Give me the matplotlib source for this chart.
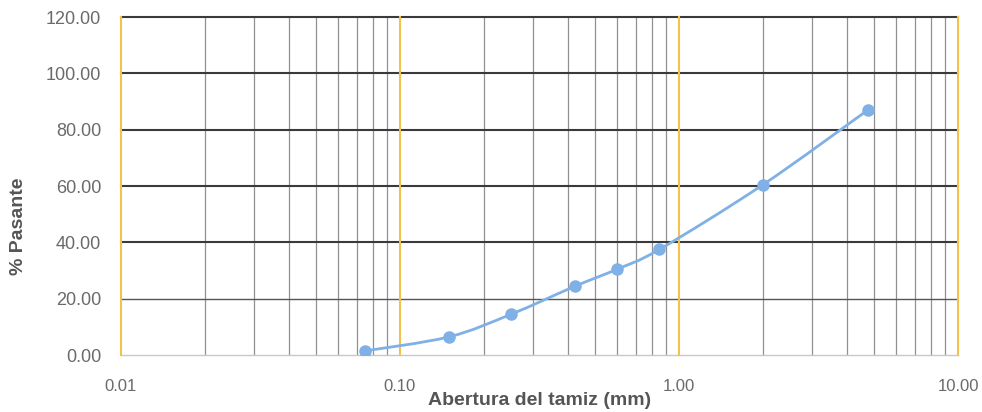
import numpy as np
import matplotlib
matplotlib.use("Agg")
import matplotlib.pyplot as plt
from matplotlib.path import Path
from matplotlib.patches import PathPatch
from matplotlib.ticker import FixedLocator, LogLocator, NullFormatter

plt.rcParams["font.family"] = ["Liberation Sans", "DejaVu Sans"]

# sieve openings (mm) and percent passing
abertura = [0.075, 0.15, 0.25, 0.425, 0.6, 0.85, 2.0, 4.75]
pasante = [1.5, 6.5, 14.5, 24.5, 30.5, 37.5, 60.5, 87.0]

x_ticks = [0.01, 0.1, 1.0, 10.0]
x_labels = ["0.01", "0.10", "1.00", "10.00"]
y_ticks = [0, 20, 40, 60, 80, 100, 120]

line_col = "#7fb0e6"
grid_dark = "#3a3a3a"
grid_minor = "#909090"
decade_col = "#f2c14e"
text_col = "#6a6a6a"


def smooth_path(xs, ys):
    # catmull-rom through the points in log-x space, turned into bezier segments
    lx = np.log10(xs)
    ly = np.asarray(ys, float)
    pts = np.column_stack([lx, ly])
    verts = [pts[0]]
    codes = [Path.MOVETO]
    n = len(pts)
    for i in range(n - 1):
        p0 = pts[i - 1] if i > 0 else pts[i]
        p1 = pts[i]
        p2 = pts[i + 1]
        p3 = pts[i + 2] if i + 2 < n else pts[i + 1]
        c1 = p1 + (p2 - p0) / 6.0
        c2 = p2 - (p3 - p1) / 6.0
        verts += [c1, c2, p2]
        codes += [Path.CURVE4] * 3
    verts = np.array(verts)
    verts[:, 0] = 10 ** verts[:, 0]
    return Path(verts, codes)


fig = plt.figure(figsize=(9.82, 4.12), dpi=100)
ax = fig.add_axes([0.123, 0.138, 0.8526, 0.8206])
ax.set_xscale("log")
ax.set_xlim(0.01, 10)
ax.set_ylim(0, 120)

ax.xaxis.set_major_locator(FixedLocator(x_ticks))
ax.set_xticklabels(x_labels)
ax.xaxis.set_minor_locator(LogLocator(base=10, subs=np.arange(2, 10)))
ax.xaxis.set_minor_formatter(NullFormatter())
ax.set_yticks(y_ticks)
ax.set_yticklabels(["%.2f" % v for v in y_ticks])

ax.grid(which="minor", axis="x", color=grid_minor, lw=0.9)
for v in x_ticks:
    ax.axvline(v, color=decade_col, lw=1.5, zorder=1.5, clip_on=False)
for v in y_ticks:
    if v == 0:
        ax.axhline(v, color="#c8c8c8", lw=1.0, zorder=1, clip_on=False)
    elif v == 20:
        ax.axhline(v, color="#555555", lw=1.0, zorder=1)
    else:
        ax.axhline(v, color=grid_dark, lw=1.5, zorder=1, clip_on=False)
ax.set_axisbelow(True)

for s in ax.spines.values():
    s.set_visible(False)
ax.tick_params(which="both", length=0)
ax.tick_params(axis="y", labelsize=13, labelcolor=text_col, pad=14)
ax.tick_params(axis="x", labelsize=12, labelcolor=text_col, pad=17)

ax.add_patch(PathPatch(smooth_path(abertura, pasante), fill=False,
                       edgecolor=line_col, lw=2.0, zorder=3))
ax.plot(abertura, pasante, ls="none", marker="o", ms=8, color=line_col, zorder=4)

ax.set_xlabel("Abertura del tamiz (mm)", fontsize=14, fontweight="bold",
              color="#555555", labelpad=-1)
ax.set_ylabel("% Pasante", fontsize=14, fontweight="bold", color="#555555")
ax.yaxis.set_label_coords(-0.112, 0.38)

fig.savefig("out.png", dpi=100)
